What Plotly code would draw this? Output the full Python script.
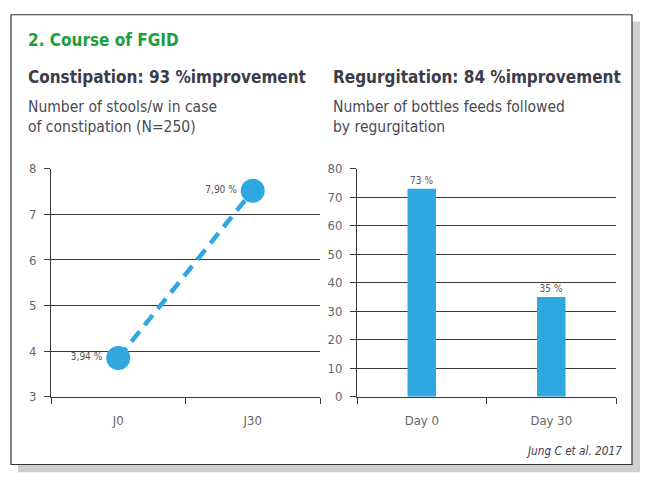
import plotly.graph_objects as go

W, H = 649, 488

line_cats = ["J0", "J30"]
line_vals = [3.85, 7.52]
line_labels = ["3,94 %", "7,90 %"]

bar_cats = ["Day 0", "Day 30"]
bar_vals = [73, 35]
bar_labels = ["73 %", "35 %"]

BLUE = "#2fa8e0"
GRID = "#3a3a3a"
TXT = "#4a4a55"
FONT = "DejaVu Sans Condensed, Liberation Sans Narrow, Arial Narrow, sans-serif"

def px(x):
    return x / W

def py(y):
    return 1 - y / H

fig = go.Figure()

fig.add_trace(go.Scatter(
    x=line_cats, y=line_vals, mode="lines+markers+text",
    line=dict(color=BLUE, width=4.5, dash="13px,8px"),
    marker=dict(color=BLUE, size=24),
    text=line_labels, textposition="middle left",
    textfont=dict(size=10, color="#555", family=FONT),
    xaxis="x", yaxis="y", cliponaxis=False, showlegend=False,
))

fig.add_trace(go.Bar(
    x=bar_cats, y=bar_vals, marker=dict(color=BLUE, line=dict(width=0)),
    width=0.22, text=bar_labels, textposition="outside",
    textfont=dict(size=10, color="#555", family=FONT),
    xaxis="x2", yaxis="y2", cliponaxis=False, showlegend=False,
))

axis_common = dict(
    showline=True, linecolor=GRID, linewidth=1,
    ticks="outside", ticklen=6, tickcolor=GRID,
    tickfont=dict(size=13, color="#666", family=FONT),
)

fig.update_layout(
    width=W, height=H,
    margin=dict(l=0, r=0, t=0, b=0),
    paper_bgcolor="white", plot_bgcolor="white",
    font=dict(family=FONT, color=TXT),
    xaxis=dict(domain=[px(51), px(320)], anchor="y", range=[-0.5, 1.5],
               tickson="boundaries", showgrid=False, ticklabelstandoff=12, **axis_common),
    yaxis=dict(domain=[py(402), py(167)], anchor="x", range=[3, 8], dtick=1,
               showgrid=True, gridcolor=GRID, gridwidth=1, zeroline=False,
               ticklabelstandoff=5, **axis_common),
    xaxis2=dict(domain=[px(357), px(616)], anchor="y2", range=[-0.5, 1.5],
                tickson="boundaries", showgrid=False, ticklabelstandoff=12, **axis_common),
    yaxis2=dict(domain=[py(402), py(167)], anchor="x2", range=[0, 80], dtick=10,
                showgrid=True, gridcolor=GRID, gridwidth=1, zeroline=False,
                ticklabelstandoff=5, **axis_common),
)

# card shadow and border
fig.add_shape(type="rect", xref="paper", yref="paper",
              x0=px(18), x1=px(640), y0=py(480), y1=py(15),
              fillcolor="#cfcfcf", line=dict(width=0), layer="below")
fig.add_shape(type="rect", xref="paper", yref="paper",
              x0=px(11), x1=px(632), y0=py(472), y1=py(8),
              fillcolor="white", line=dict(color="#333", width=1.2), layer="below")

ann = []
ann.append(dict(text="<b>2. Course of FGID</b>", x=px(26), y=py(34),
                font=dict(size=17, color="#1e9e3e", family=FONT)))
ann.append(dict(text="<b>Constipation: 93 %improvement</b>", x=px(26), y=py(72),
                font=dict(size=17, color="#3c3c4a", family=FONT)))
ann.append(dict(text="<b>Regurgitation: 84 %improvement</b>", x=px(331), y=py(72),
                font=dict(size=17, color="#3c3c4a", family=FONT)))
ann.append(dict(text="Number of stools/w in case<br>of constipation (N=250)", x=px(26), y=py(114),
                font=dict(size=15.5, color="#4a4a55", family=FONT)))
ann.append(dict(text="Number of bottles feeds followed<br>by regurgitation", x=px(331), y=py(114),
                font=dict(size=15.5, color="#4a4a55", family=FONT)))
for a in ann:
    a.update(xref="paper", yref="paper", xanchor="left", yanchor="middle",
             showarrow=False, align="left")
    fig.add_annotation(**a)

fig.add_annotation(text="<i>Jung C et al. 2017</i>", x=px(624), y=py(458),
                   xref="paper", yref="paper", xanchor="right", yanchor="middle",
                   showarrow=False, font=dict(size=11.7, color="#3c3c4a", family=FONT))

fig.write_html("out.html", config={"displayModeBar": False},
               post_script="document.body.style.margin='0px';")
